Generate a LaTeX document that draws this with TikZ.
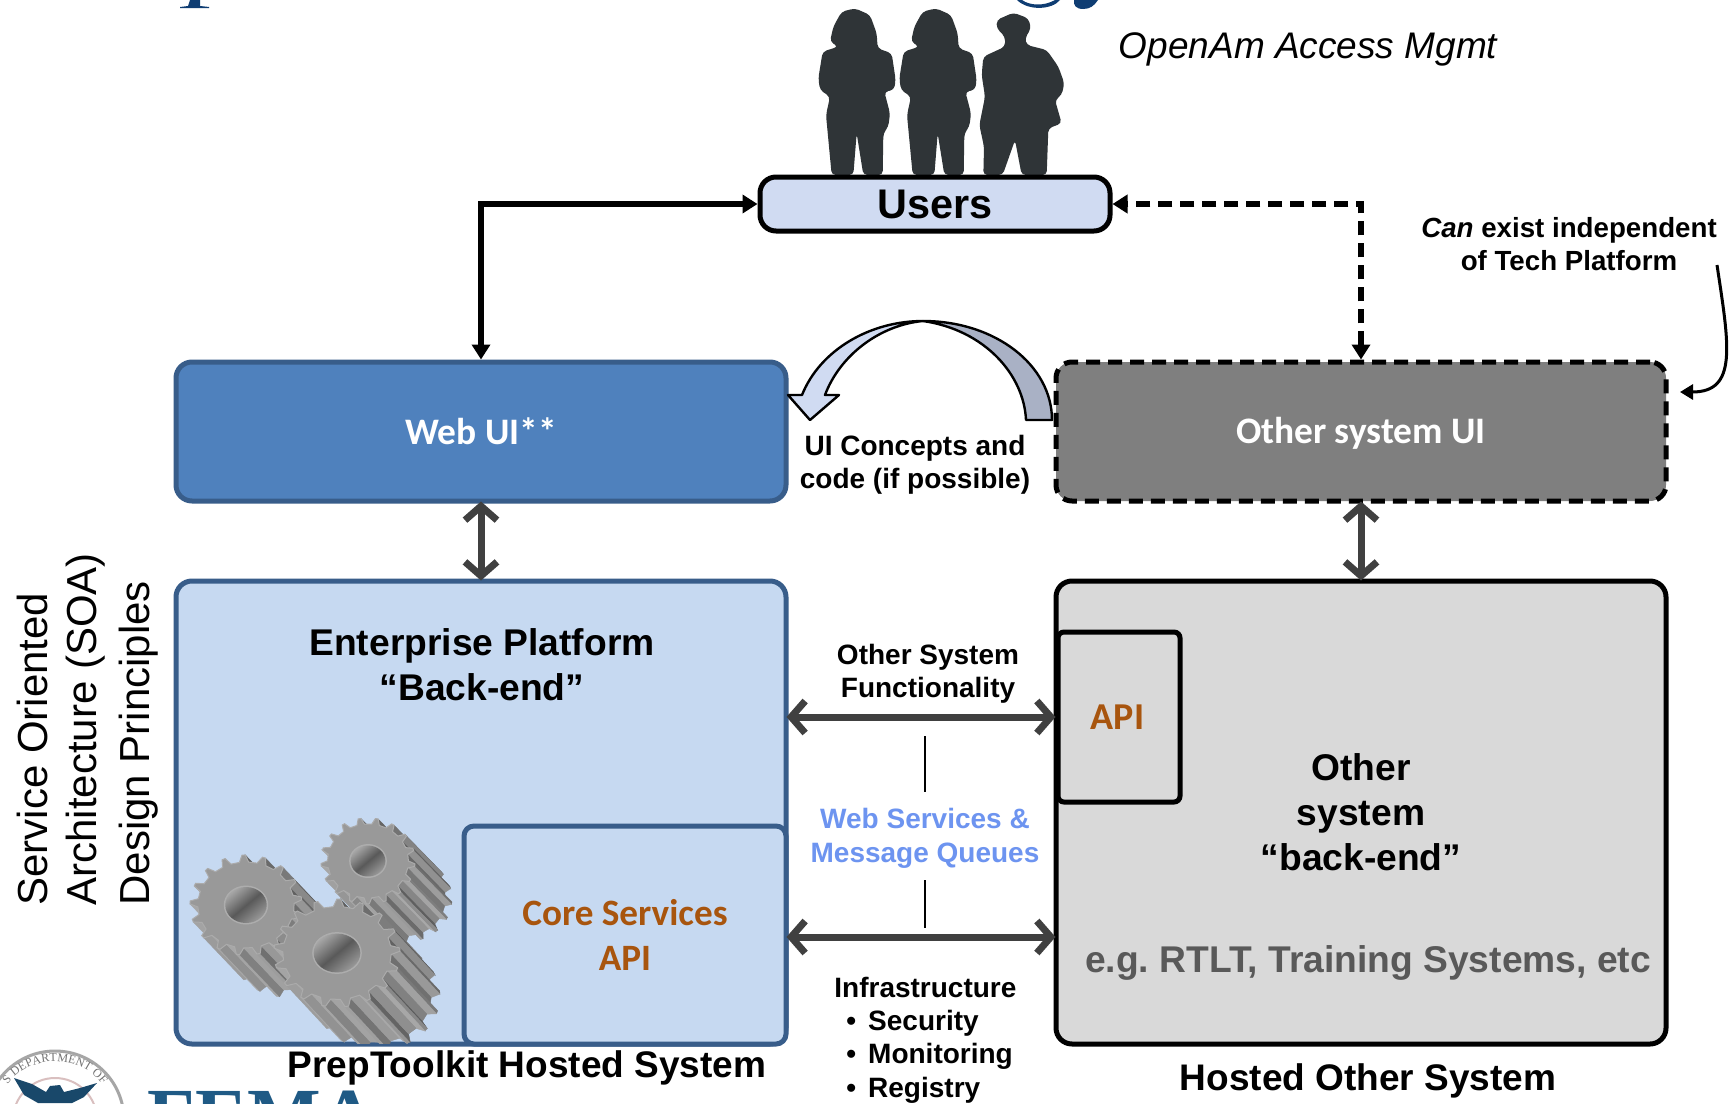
\documentclass[tikz,border=0pt]{standalone}
\usepackage{fontspec}
\setmainfont{Liberation Sans}
\newfontfamily\carl{Carlito}
\newfontfamily\seriffam{Liberation Serif}
\usetikzlibrary{arrows.meta,decorations.text,positioning,calc}
\definecolor{blueline}{HTML}{385D8A}
\definecolor{bluefill}{HTML}{4F81BD}
\definecolor{palefill}{HTML}{C6D9F1}
\definecolor{usersfill}{HTML}{D0DBF2}
\definecolor{grayfill}{HTML}{7F7F7F}
\definecolor{lightgray}{HTML}{D9D9D9}
\definecolor{darkarrow}{HTML}{404040}
\definecolor{brownish}{HTML}{A8550E}
\definecolor{wsblue}{HTML}{6D94F0}
\definecolor{navy}{HTML}{0F3D73}
\definecolor{people}{HTML}{2F3437}
\definecolor{gearface}{HTML}{999999}
\definecolor{curvelight}{HTML}{D0DBF2}
\definecolor{curvedark}{HTML}{A9B1C5}
\definecolor{femablue}{HTML}{1F5A85}
\definecolor{textgray}{HTML}{595959}
\pgfmathdeclarefunction{gearr}{1}{\pgfmathparse{(mod(#1,4)==1||mod(#1,4)==2)?1:0.86}}
\pgfmathdeclarefunction{geara}{2}{\pgfmathparse{(floor(#1/4)+(mod(#1,4)==0?0:(mod(#1,4)==1?0.18:(mod(#1,4)==2?0.34:0.52))))*(360/#2)}}
\newcommand{\gearquad}[1]{%
  \pgfmathsetmacro\ia{#1}%
  \pgfmathsetmacro\ib{#1+1}%
  \pgfmathsetmacro\xa{\gx+\grx*gearr(\ia)*cos(geara(\ia,\gN)+\grot)}%
  \pgfmathsetmacro\ya{\gy+\gry*gearr(\ia)*sin(geara(\ia,\gN)+\grot)}%
  \pgfmathsetmacro\xb{\gx+\grx*gearr(\ib)*cos(geara(\ib,\gN)+\grot)}%
  \pgfmathsetmacro\yb{\gy+\gry*gearr(\ib)*sin(geara(\ib,\gN)+\grot)}%
  \pgfmathsetmacro\tlen{max(sqrt((\xb-\xa)^2+(\yb-\ya)^2),0.01)}%
  \pgfmathsetmacro\nx{(\yb-\ya)/\tlen}%
  \pgfmathsetmacro\ny{-(\xb-\xa)/\tlen}%
  \pgfmathsetmacro\vis{\nx*\gdx+\ny*\gdy}%
  \pgfmathsetmacro\sh{0.50+0.16*(\nx*(-0.5)+\ny*0.85)}%
  \ifdim\vis pt>0pt
    \definecolor{qc}{gray}{\sh}%
    \fill[qc,draw=qc,line width=.2pt] (\xa,\ya) -- (\xb,\yb) -- ({\xb+\gdx},{\yb+\gdy}) -- ({\xa+\gdx},{\ya+\gdy}) -- cycle;
  \fi}
\newcommand{\gearfig}[8]{% cx cy rx ry dx dy N rot
  \def\gx{#1}\def\gy{#2}\def\grx{#3}\def\gry{#4}\def\gdx{#5}\def\gdy{#6}\def\gN{#7}\def\grot{#8}%
  \pgfmathtruncatemacro\M{4*#7}%
  \pgfmathtruncatemacro\half{\M/2}%
  \pgfmathtruncatemacro\izero{round(mod(atan2(#6,#5)+180-#8+360,360)/360*\M)+2*\M}%
  \foreach \j in {0,...,\half}{%
    \pgfmathtruncatemacro\ip{\izero+\j}%
    \pgfmathtruncatemacro\im{\izero-\j}%
    \gearquad{\ip}%
    \gearquad{\im}%
  }%
  \fill[gearface,draw=gearface!82!white,line width=.5pt] ({\gx+\grx*0.86*cos(\grot)},{\gy+\gry*0.86*sin(\grot)})
    \foreach \i in {1,...,\M}{ -- ({\gx+\grx*gearr(\i)*cos(geara(\i,\gN)+\grot)},{\gy+\gry*gearr(\i)*sin(geara(\i,\gN)+\grot)}) } -- cycle;
  \pgfmathsetmacro\hx{\grx*0.37}%
  \pgfmathsetmacro\hy{\gry*0.36}%
  \fill[gearface!80!white] (\gx,\gy) ellipse [x radius=\hx+1.5, y radius=\hy+1.5];
  \shade[top color=black!35,bottom color=black!40,middle color=black!65,shading angle=40] (\gx,\gy) ellipse [x radius=\hx, y radius=\hy];
}
\tikzset{
  box/.style={draw,rounded corners=8pt,line width=2.5pt,align=center,inner sep=0pt},
  heavy/.style={line width=2.7pt,draw=black},
  solidarr/.style={heavy,{Triangle[length=7.5pt,width=9pt]}-{Triangle[length=7.5pt,width=9pt]}},
  dasharr/.style={heavy,dash pattern=on 7pt off 4pt,{Triangle[length=7.5pt,width=9pt]}-{Triangle[length=7.5pt,width=9pt]}},
  dblarr/.style={line width=3.5pt,draw=darkarrow,shorten <=-1pt,shorten >=-1pt,{Straight Barb[length=7pt,width=16pt,line width=3.5pt]}-{Straight Barb[length=7pt,width=16pt,line width=3.5pt]}},
  big/.style={font=\fontsize{18.6}{22.5}\selectfont\bfseries,align=center,inner sep=0pt},
  small/.style={font=\fontsize{14}{16.7}\selectfont\bfseries,align=center,inner sep=0pt},
  soa/.style={font=\fontsize{21}{22}\selectfont,rotate=90,anchor=base west,inner sep=0pt},
}
\begin{document}
\frenchspacing
\begin{tikzpicture}[x=.5pt,y=-.5pt]
\useasboundingbox (0,0) rectangle (1729,1103);
\fill[white] (0,0) rectangle (1729,1103);

% clipped title fragments
\fill[navy] (190,0) -- (200,0) -- (200,6) -- (209,7) -- (209,8) -- (180,8) -- (180,7) -- (188,6) -- cycle;
\fill[navy] (1017,0) -- (1022,0) .. controls (1030,6) and (1045,6) .. (1055,0) -- (1060,0) .. controls (1052,10) and (1028,11) .. (1017,0) -- cycle;
\fill[navy] (1074,0) -- (1098,0) .. controls (1094,6) and (1090,9) .. (1083,9) .. controls (1076,9) and (1073,5) .. (1074,0) -- cycle;

% seal and FEMA (cut by the lower edge)
\begin{scope}
\clip (0,0) rectangle (1729,1103);
\fill[white] (55,1120) circle [radius=70];
\draw[black!35,line width=1.5pt] (55,1120) circle [radius=69];
\draw[red!40!black!25,line width=1pt] (55,1120) circle [radius=42];
\path[decorate,decoration={text along path,text align=center,text={|\fontsize{6}{7}\selectfont\seriffam\color{black!55}|S DEPARTMENT OF}}]
  (-3,1120) .. controls (-3,1042) and (113,1042) .. (113,1120);
\fill[femablue!80!black] (14,1078) -- (32,1084) -- (46,1092) -- (50,1086) -- (60,1085) -- (64,1092) -- (80,1088) -- (97,1083) -- (84,1097) -- (72,1103) -- (38,1103) -- (24,1095) -- cycle;
\node[anchor=base west,inner sep=0pt,text=femablue,font=\fontsize{39}{40}\selectfont\seriffam\bfseries] (femamark) at (147,1142) {FEMA};
\end{scope}

% silhouettes
\begin{scope}[shift={(700,0)},x=.16667pt,y=-.16667pt,rounded corners=2pt]
\foreach \sft in {0,243}{
\fill[people,xshift=\sft*.16667pt] (465,25) -- (510,45) -- (530,100) -- (533,145) -- (575,160) -- (587,240) -- (582,270) -- (553,275) -- (570,340) -- (565,380) -- (550,400) -- (548,525) -- (490,525) -- (470,400) -- (460,525) -- (395,525) -- (378,345) -- (390,290) -- (360,270) -- (355,235) -- (368,155) -- (415,140) -- (390,125) -- (400,80) -- (425,35) -- cycle;
}
\fill[people] (940,38) -- (985,55) -- (993,85) -- (975,115) -- (980,135) -- (1040,150) -- (1075,200) -- (1093,250) -- (1085,285) -- (1065,300) -- (1085,370) -- (1045,385) -- (1040,525) -- (965,525) -- (945,420) -- (908,525) -- (850,525) -- (852,440) -- (838,375) -- (855,290) -- (845,225) -- (850,170) -- (915,140) -- (915,110) -- (890,85) -- (890,60) -- cycle;
\end{scope}

% boxes
\node[box,fill=usersfill,minimum width=175pt,minimum height=27pt,font=\fontsize{20.7}{22}\selectfont\bfseries] (users) at (935,204) {\raisebox{-7.4pt}[0pt][0pt]{Users}};
\node[box,draw=blueline,fill=bluefill,text=white,minimum width=305pt,minimum height=69.5pt,font=\fontsize{18.7}{20}\selectfont\carl\bfseries] (webui) at (481,431.5) {Web UI**};
\node[box,dash pattern=on 7pt off 4pt,fill=grayfill,text=white,minimum width=305pt,minimum height=69.5pt,font=\fontsize{18.7}{20}\selectfont\carl\bfseries] (otherui) at (1361,431.5) {\raisebox{-6pt}[0pt][0pt]{Other system UI}};
\node[box,draw=blueline,fill=palefill,minimum width=305pt,minimum height=231.5pt] (ep) at (481,812.5) {};
\node[box,fill=lightgray,minimum width=305pt,minimum height=231.5pt] (oth) at (1361,812.5) {};
\node[box,rounded corners=3pt,fill=lightgray,minimum width=61pt,minimum height=85pt,text=brownish,font=\fontsize{19}{20}\selectfont\carl\bfseries] (apibox) at (1119,717) {\hspace*{-1.5pt}API};
\node[box,draw=blueline,rounded corners=5pt,fill=palefill,minimum width=161pt,minimum height=109pt,text=brownish,font=\fontsize{18.6}{22.5}\selectfont\carl\bfseries] (core) at (625,935) {Core Services\\API};

% gears
\gearfig{246}{905}{56}{50}{40}{42}{17}{8}
\gearfig{368}{861}{47}{43}{37}{38}{17}{0}
\begin{scope}
\clip (180,780) rectangle (464,1043);
\gearfig{337}{953}{63}{54}{40}{43}{17}{12}
\end{scope}

% texts
\node[font=\fontsize{18.5}{20}\selectfont\itshape,inner sep=0pt] (openam) at (1308,49.5) {OpenAm Access Mgmt};
\node[small,font=\fontsize{13.85}{16.5}\selectfont\bfseries] (canexist) at (1569,244.5) {\textit{Can} exist independent\\of Tech Platform};
\node[small] (uiconcepts) at (915,465) {UI Concepts and\\code (if possible)};
\node[big] (epname) at (482,665) {Enterprise Platform\\“Back-end”};
\node[big] (othname) at (1361,812) {Other\\system\\“back-end”};
\node[font=\fontsize{18.6}{20}\selectfont\bfseries,text=textgray,inner sep=0pt] (examples) at (1368,963) {e.g. RTLT, Training Systems, etc};
\node[small] (otherfunc) at (928,674) {Other System\\Functionality};
\node[small,text=wsblue] (webserv) at (925,838.5) {Web Services \&\\Message Queues};
\node[small,align=left,anchor=west] (infra) at (834,1040) {Infrastructure\\\hspace*{6pt}•\hspace{6pt}Security\\\hspace*{6pt}•\hspace{6pt}Monitoring\\\hspace*{6pt}•\hspace{6pt}Registry};
\node[font=\fontsize{18.5}{20}\selectfont\bfseries,inner sep=0pt] (prep) at (527,1068) {PrepToolkit Hosted System};
\node[font=\fontsize{18.5}{20}\selectfont\bfseries,inner sep=0pt] (hosted) at (1368,1081) {Hosted Other System};
\node[soa] (soa1) at (47,906) {Service Oriented};
\node[soa] (soa2) at (96.5,906) {Architecture (SOA)};
\node[soa] (soa3) at (149.5,906) {Design Principles};

% connectors
\draw[solidarr] (webui.north) -- (webui.north |- users.west) -- (users.west);
\draw[dasharr] (otherui.north) -- (otherui.north |- users.east) -- (users.east);
\draw[dblarr] (webui.south) -- (ep.north);
\draw[dblarr] (otherui.south) -- (oth.north);
\coordinate (lowmid) at (925,937);
\draw[dblarr] (ep.east |- apibox.west) -- (oth.west |- apibox.west);
\draw[dblarr] (ep.east |- lowmid) -- (oth.west |- lowmid);
\coordinate (sep1a) at (925,736);
\coordinate (sep1b) at (925,792);
\coordinate (sep2a) at (925,880);
\coordinate (sep2b) at (925,928);
\draw[line width=1pt,black] (sep1a) -- (sep1b);
\draw[line width=1pt,black] (sep2a) -- (sep2b);
\coordinate (notefrom) at (1717,265);
\coordinate (noteto) at (1680,392);
\draw[line width=1.5pt,-{Triangle[length=6.5pt,width=7.5pt]}] (notefrom) .. controls (1729,345) and (1738,392) .. (noteto);

% curved block arrow
\coordinate (curvetop) at (923,321);
\draw[line width=1.2pt,line join=round,fill=curvedark] (curvetop) .. controls (995,321) and (1052,365) .. (1052,420) -- (1026,420) .. controls (1024,375) and (985,330) .. (curvetop) -- cycle;
\draw[line width=1.2pt,line join=round,fill=curvelight] (curvetop) .. controls (870,321) and (820,350) .. (802,395) -- (788,395) -- (810,420) -- (839,395) -- (825,395) .. controls (840,355) and (880,325) .. (curvetop) -- cycle;
\end{tikzpicture}
\end{document}
